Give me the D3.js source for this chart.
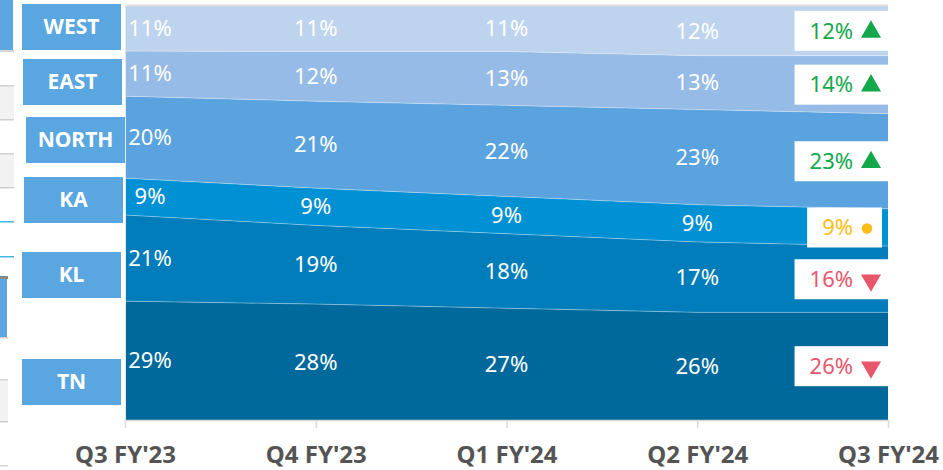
<!DOCTYPE html>
<html>
<head>
<meta charset="utf-8">
<script src="https://cdn.jsdelivr.net/npm/d3@7"></script>
<style>
  body { margin: 0; background: #fff; }
  svg { display: block; font-family: "Segoe UI", "Noto Sans", sans-serif; }
</style>
</head>
<body>
<svg id="chart" width="943" height="470"></svg>
<script>
// data
var quarters = ["Q3 FY'23", "Q4 FY'23", "Q1 FY'24", "Q2 FY'24", "Q3 FY'24"];
var regions = ["TN", "KL", "KA", "NORTH", "EAST", "WEST"];
var tn    = [29, 28, 27, 26, 26];
var kl    = [21, 19, 18, 17, 16];
var ka    = [9, 9, 9, 9, 9];
var north = [20, 21, 22, 23, 23];
var east  = [11, 12, 13, 13, 14];
var west  = [11, 11, 11, 12, 12];
var trend = {TN: "down", KL: "down", KA: "flat", NORTH: "up", EAST: "up", WEST: "up"};

var colors = {
  TN: "#00699c", KL: "#007dba", KA: "#0090d4",
  NORTH: "#5aa3de", EAST: "#95bbe6", WEST: "#bdd3ee"
};
var trendColor = {up: "#14a84a", flat: "#fdbd16", down: "#e8566c"};

var series = {TN: tn, KL: kl, KA: ka, NORTH: north, EAST: east, WEST: west};

function drawChart(){
  var table = quarters.map(function(q, i){
    var row = {q: q};
    regions.forEach(function(r){ row[r] = series[r][i]; });
    return row;
  });

  var svg = d3.select("#chart");
  var plotLeft = 125, plotRight = 888, plotTop = 6, plotBottom = 420;

  var x = d3.scalePoint().domain(quarters).range([plotLeft, plotRight]);
  var y = d3.scaleLinear().domain([0, 1]).range([plotBottom, plotTop]);

  var stack = d3.stack().keys(regions).offset(d3.stackOffsetExpand);
  var layers = stack(table);

  // left-hand slicer remains
  var deco = svg.append("g");
  deco.append("rect").attr("x", 0).attr("y", 0).attr("width", 13).attr("height", 50).attr("fill", "#5ba6e0");
  deco.append("rect").attr("x", 0).attr("y", 50).attr("width", 14).attr("height", 2).attr("fill", "#d6d6d6");
  [85, 153].forEach(function(yy){
    deco.append("rect").attr("x", 0).attr("y", yy).attr("width", 14).attr("height", 35).attr("fill", "#f2f2f2");
    deco.append("rect").attr("x", 0).attr("y", yy).attr("width", 14).attr("height", 1.5).attr("fill", "#cfcfcf");
    deco.append("rect").attr("x", 0).attr("y", yy + 34).attr("width", 14).attr("height", 1.5).attr("fill", "#cfcfcf");
  });
  deco.append("rect").attr("x", 0).attr("y", 221).attr("width", 14).attr("height", 1.5).attr("fill", "#41b6e6");
  deco.append("rect").attr("x", 0).attr("y", 256).attr("width", 14).attr("height", 1.5).attr("fill", "#41b6e6");
  deco.append("rect").attr("x", 0).attr("y", 276).attr("width", 8).attr("height", 3).attr("fill", "#888");
  deco.append("rect").attr("x", 0).attr("y", 279).attr("width", 7).attr("height", 58).attr("fill", "#5ba6e0");
  deco.append("rect").attr("x", 0).attr("y", 337).attr("width", 8).attr("height", 1.5).attr("fill", "#cfcfcf");
  deco.append("rect").attr("x", 0).attr("y", 379).attr("width", 8).attr("height", 43).attr("fill", "#f2f2f2");
  deco.append("rect").attr("x", 0).attr("y", 379).attr("width", 8).attr("height", 1.5).attr("fill", "#d6d6d6");
  deco.append("rect").attr("x", 0).attr("y", 421).attr("width", 8).attr("height", 1.5).attr("fill", "#cfcfcf");
  deco.append("rect").attr("x", 0).attr("y", 465).attr("width", 8).attr("height", 1.5).attr("fill", "#d6d6d6");

  // stacked areas
  var area = d3.area()
    .x(function(d){ return x(d.data.q); })
    .y0(function(d){ return y(d[0]); })
    .y1(function(d){ return y(d[1]); });

  svg.append("g").selectAll("path").data(layers).enter().append("path")
    .attr("d", area)
    .attr("fill", function(d){ return colors[d.key]; });

  var topLine = d3.line()
    .x(function(d){ return x(d.data.q); })
    .y(function(d){ return y(d[1]); });
  svg.append("g").selectAll("path").data(layers.slice(0, -1)).enter().append("path")
    .attr("d", topLine)
    .attr("fill", "none")
    .attr("stroke", "#fff")
    .attr("stroke-opacity", 0.35)
    .attr("stroke-width", 1);

  // frame + axis
  svg.append("line").attr("x1", plotLeft).attr("x2", plotRight).attr("y1", plotTop - 0.5).attr("y2", plotTop - 0.5)
    .attr("stroke", "#e0e0e0").attr("stroke-width", 2);
  svg.append("line").attr("x1", plotLeft + 0.5).attr("x2", plotLeft + 0.5).attr("y1", plotTop).attr("y2", plotBottom)
    .attr("stroke", "#e8e8e8").attr("stroke-width", 1);

  var xAxis = svg.append("g")
    .attr("transform", "translate(0," + plotBottom + ")")
    .call(d3.axisBottom(x).tickSize(8).tickPadding(18));
  xAxis.select(".domain").attr("stroke", "#d9d9d9").attr("stroke-width", 1.5).attr("d", "M" + plotLeft + ",0.5H" + plotRight);
  xAxis.selectAll(".tick line").attr("stroke", "#d9d9d9").attr("stroke-width", 1.5);
  xAxis.selectAll(".tick text")
    .attr("fill", "#545454")
    .style("font-size", "24px")
    .style("font-weight", "bold")
    .style("font-family", "'Segoe UI', 'Noto Sans', sans-serif");

  // value labels inside bands
  var labelG = svg.append("g");
  layers.forEach(function(layer){
    layer.forEach(function(d, i){
      if (i === quarters.length - 1) return;
      var cx = i === 0 ? x(d.data.q) + 25 : x(d.data.q);
      var cy = (y(d[0]) + y(d[1])) / 2;
      labelG.append("text")
        .attr("x", cx).attr("y", cy)
        .attr("dy", "0.35em")
        .attr("text-anchor", "middle")
        .attr("fill", "#fff")
        .style("font-size", "22px")
        .text(series[layer.key][i] + "%");
    });
  });

  // last-quarter callouts with trend marks
  var last = quarters.length - 1;
  layers.forEach(function(layer){
    var d = layer[last];
    var cy = (y(d[0]) + y(d[1])) / 2;
    var t = trend[layer.key];
    var g = svg.append("g");
    var box = g.append("rect").attr("fill", "#fff");
    var txt = g.append("text")
      .attr("x", 853).attr("y", cy)
      .attr("dy", "0.35em")
      .attr("text-anchor", "end")
      .attr("fill", trendColor[t])
      .style("font-size", "22px")
      .text(series[layer.key][last] + "%");
    var sym, sx, half;
    if (t === "flat") {
      sym = d3.symbol().type(d3.symbolCircle).size(85);
      sx = 867; half = 5;
    } else {
      sym = d3.symbol().type(d3.symbolTriangle).size(175);
      sx = 871; half = 8;
    }
    g.append("path")
      .attr("d", sym())
      .attr("transform", "translate(" + sx + "," + (cy + 1) + ")" + (t === "down" ? " rotate(180)" : ""))
      .attr("fill", trendColor[t]);
    var bb = txt.node().getBBox();
    box.attr("x", bb.x - 15).attr("y", cy - 20)
      .attr("width", (sx + half + 10) - (bb.x - 15)).attr("height", 40);
  });

  // region tiles on the left
  var tileLayout = {WEST: [22, 4], EAST: [23, 59], NORTH: [26, 117], KA: [24, 177], KL: [22, 252], TN: [22, 359]};
  var tiles = svg.append("g");
  regions.slice().reverse().forEach(function(r){
    var p = tileLayout[r];
    tiles.append("rect").attr("x", p[0]).attr("y", p[1]).attr("width", 99).attr("height", 46).attr("fill", "#5aa6e0");
    tiles.append("text")
      .attr("x", p[0] + 49.5).attr("y", p[1] + 23)
      .attr("dy", "0.35em")
      .attr("text-anchor", "middle")
      .attr("fill", "#fff")
      .style("font-size", "21px")
      .style("font-weight", "bold")
      .text(r);
  });
}

drawChart();
</script>
</body>
</html>
